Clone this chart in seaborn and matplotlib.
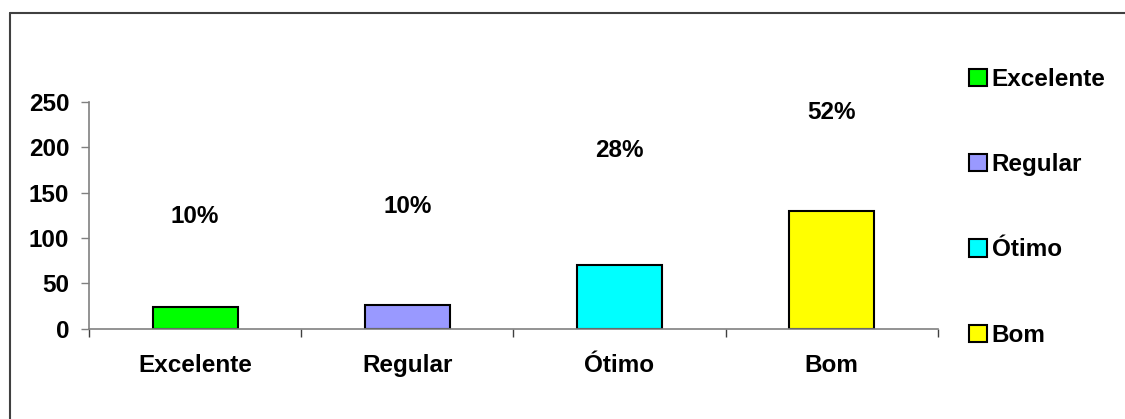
import matplotlib
matplotlib.use("Agg")
import matplotlib.pyplot as plt
import seaborn as sns
import pandas as pd
from matplotlib.patches import Patch
from matplotlib.lines import Line2D

categories = ["Excelente", "Regular", "Ótimo", "Bom"]
values = [24, 26, 70, 130]
percent_labels = ["10%", "10%", "28%", "52%"]
label_heights = [123.5, 135, 197, 238.5]
colors = ["#00FF00", "#9999FF", "#00FFFF", "#FFFF00"]
yticks = [0, 50, 100, 150, 200, 250]

sns.set_theme(style="white")
plt.rcParams["font.family"] = ["Liberation Sans", "DejaVu Sans"]
plt.rcParams["font.weight"] = "bold"
plt.rcParams["text.color"] = "black"
plt.rcParams["xtick.color"] = "black"
plt.rcParams["ytick.color"] = "black"

W, H = 1125, 419
fig = plt.figure(figsize=(W / 100, H / 100), dpi=100)
fig.patch.set_facecolor("white")
ax = fig.add_axes([89 / W, (H - 328.7) / H, (937.7 - 89) / W, 226.7 / H])

df = pd.DataFrame({"cat": categories, "val": values})
sns.barplot(data=df, x="cat", y="val", hue="cat", palette=colors, order=categories,
            hue_order=categories, width=0.4, edgecolor="black", linewidth=1.5,
            legend=False, ax=ax, saturation=1)

FS = 17.5
for i, (lab, h) in enumerate(zip(percent_labels, label_heights)):
    ax.text(i, h, lab, ha="center", va="center", fontsize=FS, fontweight="bold", color="black")

ax.set_xlim(-0.5, len(categories) - 0.5)
ax.set_ylim(0, 250)
ax.set_yticks(yticks)
ax.set_xlabel("")
ax.set_ylabel("")
ax.set_facecolor("white")
for s in ["top", "right"]:
    ax.spines[s].set_visible(False)
for s in ["left", "bottom"]:
    ax.spines[s].set_color("#808080")
    ax.spines[s].set_linewidth(1.2)

ax.tick_params(axis="y", direction="out", length=5.8, width=1, color="#808080",
               labelcolor="black", pad=8.5, labelsize=FS, left=True)
ax.set_xticks(range(len(categories)))
ax.set_xticklabels(categories, fontsize=FS, fontweight="bold")
ax.set_xticks([i - 0.5 for i in range(len(categories) + 1)], minor=True)
ax.tick_params(axis="x", which="major", length=0, pad=18, labelcolor="black")
ax.tick_params(axis="x", which="minor", direction="out", length=5.8, width=1,
               color="#404040", bottom=True)
for t in ax.get_yticklabels():
    t.set_fontweight("bold")

handles = [Patch(facecolor=c, edgecolor="black", linewidth=1.5) for c in colors]
leg = ax.legend(handles, categories, loc="upper left",
                bbox_to_anchor=(969 / W, 1 - 68 / H), bbox_transform=fig.transFigure,
                frameon=False, borderpad=0, borderaxespad=0, handlelength=0.72,
                handleheight=0.72, handletextpad=0.22, labelspacing=2.56,
                prop={"size": FS, "weight": "bold"})
for t in leg.get_texts():
    t.set_color("black")

fig.add_artist(Line2D([10 / W, 1], [1 - 13 / H, 1 - 13 / H], transform=fig.transFigure,
                      color="#404040", linewidth=1.5))
fig.add_artist(Line2D([10 / W, 10 / W], [1 - 13 / H, 0], transform=fig.transFigure,
                      color="#404040", linewidth=1.5))

fig.savefig("out.png", dpi=100, facecolor="white")
